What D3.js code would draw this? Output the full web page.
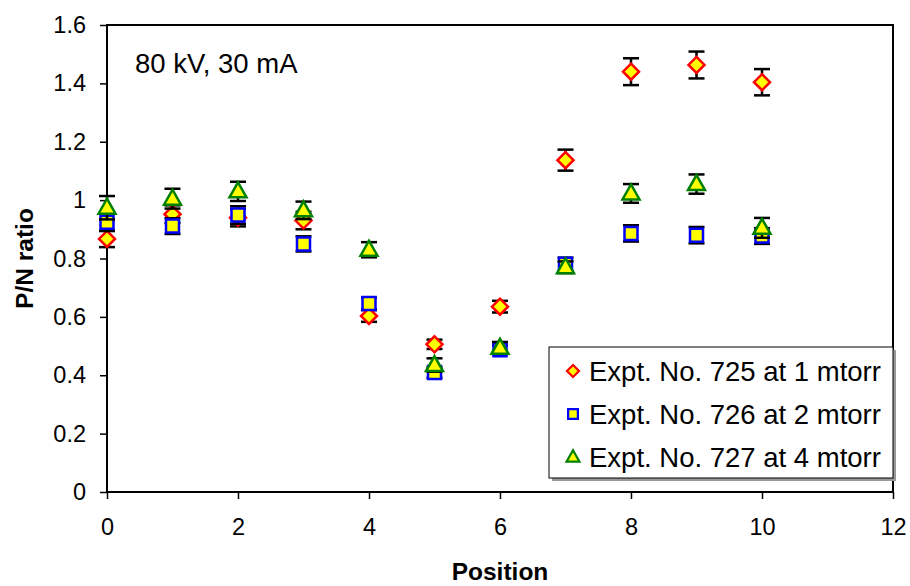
<!DOCTYPE html>
<html>
<head>
<meta charset="utf-8">
<script src="https://cdn.jsdelivr.net/npm/d3@7"></script>
<style>
  html, body { margin: 0; padding: 0; background: #fff; }
  svg { display: block; font-family: "Liberation Sans", Arial, sans-serif; }
</style>
</head>
<body>
<svg id="chart" width="910" height="586"></svg>
<script>
// Positions along the sample
const positions = [0, 1, 2, 3, 4, 5, 6, 7, 8, 9, 10];

// P/N ratio measured in each experiment, with error bar half-widths
const expt725 = [0.867, 0.952, 0.94, 0.93, 0.603, 0.506, 0.635, 1.137, 1.44, 1.463, 1.404];
const err725  = [0.028, 0.03, 0.03, 0.03, 0.02, 0.016, 0.02, 0.036, 0.046, 0.046, 0.045];

const expt726 = [0.924, 0.911, 0.949, 0.85, 0.646, 0.409, 0.487, 0.78, 0.886, 0.88, 0.877];
const err726  = [0.03, 0.027, 0.03, 0.026, 0.02, 0.018, 0.015, 0.023, 0.028, 0.028, 0.027];

const expt727 = [0.974, 1.005, 1.03, 0.965, 0.83, 0.435, 0.494, 0.77, 1.023, 1.055, 0.905];
const err727  = [0.04, 0.034, 0.033, 0.03, 0.026, 0.023, 0.02, 0.02, 0.032, 0.033, 0.034];

const seriesNames = ["Expt. No. 725 at 1 mtorr", "Expt. No. 726 at 2 mtorr", "Expt. No. 727 at 4 mtorr"];
const xTicks = [0, 2, 4, 6, 8, 10, 12];
const yTicks = [0, 0.2, 0.4, 0.6, 0.8, 1, 1.2, 1.4, 1.6];
const annotation = "80 kV, 30 mA";

const series = [
  { name: seriesNames[0], values: expt725, errors: err725, shape: "diamond", stroke: "#ff0000" },
  { name: seriesNames[1], values: expt726, errors: err726, shape: "square",  stroke: "#0000ff" },
  { name: seriesNames[2], values: expt727, errors: err727, shape: "triangle", stroke: "#008000" }
];

const svg = d3.select("#chart");
const plot = { left: 107, right: 893, top: 25, bottom: 492 };

const x = d3.scaleLinear().domain([0, 12]).range([plot.left, plot.right]);
const y = d3.scaleLinear().domain([0, 1.6]).range([plot.bottom, plot.top]);

// Axes
const xAxis = d3.axisBottom(x).tickValues(xTicks).tickSize(7).tickPadding(19).tickFormat(d3.format("d"));
const yAxis = d3.axisLeft(y).tickValues(yTicks).tickSize(7).tickPadding(14).tickFormat(d => d3.format("")(d));

const gx = svg.append("g").attr("transform", `translate(0,${plot.bottom})`).call(xAxis);
const gy = svg.append("g").attr("transform", `translate(${plot.left},0)`).call(yAxis);
[gx, gy].forEach(g => {
  g.select(".domain").remove();
  g.selectAll(".tick line").attr("stroke", "#000").attr("stroke-width", 1.5);
  g.selectAll(".tick text").attr("fill", "#000").style("font-size", "23.5px");
});

// Plot frame
svg.append("rect")
  .attr("x", plot.left).attr("y", plot.top)
  .attr("width", plot.right - plot.left).attr("height", plot.bottom - plot.top)
  .attr("fill", "none").attr("stroke", "#000").attr("stroke-width", 2);

// Axis titles
svg.append("text")
  .attr("x", (plot.left + plot.right) / 2).attr("y", 580)
  .attr("text-anchor", "middle").style("font-size", "24.5px").style("font-weight", "bold")
  .text("Position");
svg.append("text")
  .attr("transform", `translate(33,${(plot.top + plot.bottom) / 2}) rotate(-90)`)
  .attr("text-anchor", "middle").style("font-size", "24.5px").style("font-weight", "bold")
  .text("P/N ratio");

// Condition label
svg.append("text").attr("x", 135).attr("y", 73).style("font-size", "27.5px").text(annotation);

// Marker shapes
const symbolPath = {
  diamond: "M0,-8L8,0L0,8L-8,0Z",
  square: "M-6.5,-6.5H6.5V6.5H-6.5Z",
  triangle: "M0,-9L8.5,6H-8.5Z"
};

const capHalf = 8;
series.forEach(s => {
  const g = svg.append("g");
  const pts = positions.map((p, i) => ({ p, v: s.values[i], e: s.errors[i] }));
  // Error bars
  const eb = g.selectAll("g.err").data(pts).join("g").attr("class", "err")
    .attr("stroke", "#000").attr("stroke-width", 2.5);
  eb.append("line").attr("x1", d => x(d.p)).attr("x2", d => x(d.p))
    .attr("y1", d => y(d.v - d.e)).attr("y2", d => y(d.v + d.e));
  eb.append("line").attr("x1", d => x(d.p) - capHalf).attr("x2", d => x(d.p) + capHalf)
    .attr("y1", d => y(d.v + d.e)).attr("y2", d => y(d.v + d.e));
  eb.append("line").attr("x1", d => x(d.p) - capHalf).attr("x2", d => x(d.p) + capHalf)
    .attr("y1", d => y(d.v - d.e)).attr("y2", d => y(d.v - d.e));
  // Markers
  g.selectAll("path.mark").data(pts).join("path").attr("class", "mark")
    .attr("d", symbolPath[s.shape])
    .attr("transform", d => `translate(${x(d.p)},${y(d.v)})`)
    .attr("fill", "#ffff00").attr("stroke", s.stroke).attr("stroke-width", 2.5);
});

// Legend
const lg = { x: 549, y: 347, w: 344, h: 131 };
svg.append("rect").attr("x", lg.x + 3).attr("y", lg.y + 3).attr("width", lg.w).attr("height", lg.h)
  .attr("fill", "#999");
svg.append("rect").attr("x", lg.x).attr("y", lg.y).attr("width", lg.w).attr("height", lg.h)
  .attr("fill", "#fff").attr("stroke", "#000").attr("stroke-width", 1);

series.forEach((s, i) => {
  const base = 381 + i * 43;
  svg.append("path").attr("d", symbolPath[s.shape])
    .attr("transform", `translate(573,${base - 10}) scale(0.75)`)
    .attr("fill", "#ffff00").attr("stroke", s.stroke).attr("stroke-width", 3);
  svg.append("text").attr("x", 589).attr("y", base).style("font-size", "27.5px").text(s.name);
});
</script>
</body>
</html>
